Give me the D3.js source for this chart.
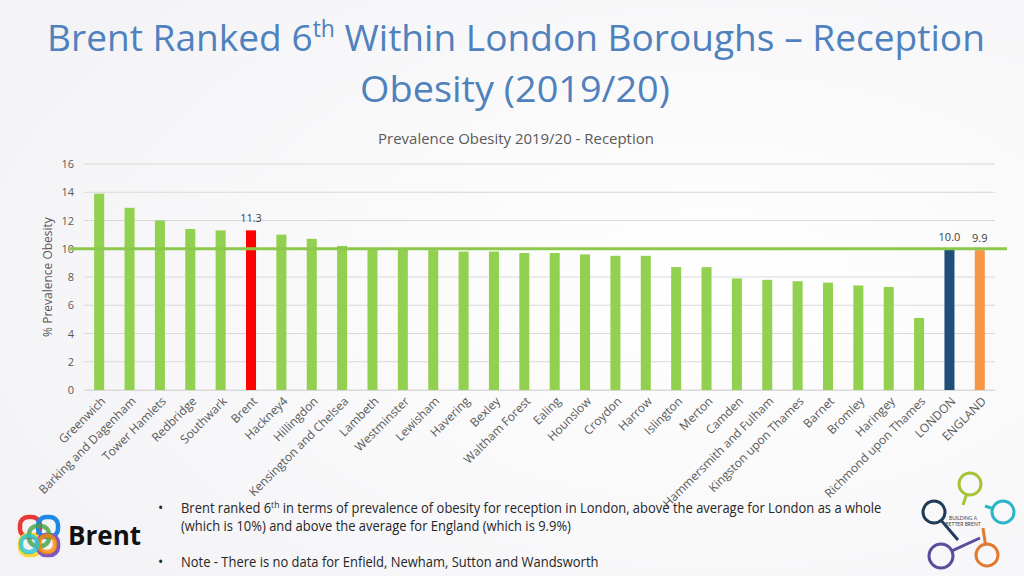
<!DOCTYPE html>
<html><head><meta charset="utf-8">
<script src="https://cdn.jsdelivr.net/npm/d3@7"></script>
<style>
html,body{margin:0;padding:0;background:#f5f5f7;}
svg{display:block;font-family:Lato,"Open Sans",sans-serif;}
</style></head>
<body>
<svg id="c" width="1024" height="576"></svg>
<script>
const categories = ["Greenwich","Barking and Dagenham","Tower Hamlets","Redbridge","Southwark","Brent","Hackney4","Hillingdon","Kensington and Chelsea","Lambeth","Westminster","Lewisham","Havering","Bexley","Waltham Forest","Ealing","Hounslow","Croydon","Harrow","Islington","Merton","Camden","Hammersmith and Fulham","Kingston upon Thames","Barnet","Bromley","Haringey","Richmond upon Thames","LONDON","ENGLAND"];
const values = [13.9,12.9,12.0,11.4,11.3,11.3,11.0,10.7,10.2,10.0,10.0,9.9,9.8,9.8,9.7,9.7,9.6,9.5,9.5,8.7,8.7,7.9,7.8,7.7,7.6,7.4,7.3,5.1,10.0,9.9];
const yTicks = [0,2,4,6,8,10,12,14,16];
const referenceValue = 10.0;
const labelled = ["Brent","LONDON","ENGLAND"];
const highlightColors = {"Brent":"#ff0000","LONDON":"#1f4e79","ENGLAND":"#f79646"};
const baseColor = "#92d050";

const svg = d3.select("#c");

// background
const defs = svg.append("defs");
const g1 = defs.append("radialGradient").attr("id","bg").attr("cx","0.7").attr("cy","0.5").attr("r","0.8");
g1.append("stop").attr("offset","0").attr("stop-color","#ffffff");
g1.append("stop").attr("offset","1").attr("stop-color","#f3f3f6");
svg.append("rect").attr("width",1024).attr("height",576).attr("fill","url(#bg)");

// compress text horizontally around anchor x to reach a target width
function squeeze(sel, ax, w){
  const cur = sel.node().getComputedTextLength();
  const s = w / cur;
  sel.attr("transform",`translate(${ax},0) scale(${s},1) translate(${-ax},0)`);
}

// Title
const t1 = svg.append("text").attr("x",516).attr("y",51).attr("text-anchor","middle")
  .attr("font-size",37).attr("fill","#4f81bd").attr("font-family","'Open Sans',sans-serif");
t1.append("tspan").text("Brent Ranked 6");
t1.append("tspan").text("th").attr("font-size","0.62em").attr("dy",-14);
t1.append("tspan").text(" Within London Boroughs \u2013 Reception").attr("dy",14);
squeeze(t1, 516, 938);
const t2 = svg.append("text").attr("x",515).attr("y",102).attr("text-anchor","middle")
  .attr("font-size",37).attr("fill","#4f81bd").attr("font-family","'Open Sans',sans-serif")
  .text("Obesity (2019/20)");
squeeze(t2, 515, 310);

// chart title
const ct = svg.append("text").attr("x",516).attr("y",144).attr("text-anchor","middle")
  .attr("font-size",14.5).attr("fill","#595959").attr("font-family","'Open Sans',sans-serif")
  .text("Prevalence Obesity 2019/20 - Reception");
squeeze(ct, 516, 276);

const x = d3.scaleBand().domain(categories).range([84,995]).paddingInner(0.67).paddingOuter(0.335);
const y = d3.scaleLinear().domain([0,16]).range([390,164]);

// gridlines
svg.append("g").selectAll("line").data(yTicks).join("line")
  .attr("x1",84).attr("x2",995).attr("y1",d=>y(d)).attr("y2",d=>y(d))
  .attr("stroke","#d9d9d9").attr("stroke-width",1);

// y axis
const yAxis = svg.append("g").attr("transform","translate(80,0)")
  .call(d3.axisLeft(y).tickValues(yTicks).tickSize(0).tickPadding(0));
yAxis.select(".domain").remove();
yAxis.selectAll("text").attr("font-size",11).attr("fill","#595959").attr("font-family","'Open Sans',sans-serif").attr("dx",-6);

svg.append("text").attr("transform","translate(52,277) rotate(-90)").attr("text-anchor","middle")
  .attr("font-size",12).attr("fill","#595959").attr("font-family","'Open Sans',sans-serif")
  .text("% Prevalence Obesity");

// bars
svg.append("g").selectAll("rect").data(categories).join("rect")
  .attr("x",d=>x(d)).attr("width",x.bandwidth())
  .attr("y",(d,i)=>y(values[i])).attr("height",(d,i)=>y(0)-y(values[i]))
  .attr("fill",d=>highlightColors[d]||baseColor);

// reference line
svg.append("line").attr("x1",70).attr("x2",1007).attr("y1",y(referenceValue)).attr("y2",y(referenceValue))
  .attr("stroke","#8cc84b").attr("stroke-width",3);

// data labels
svg.append("g").selectAll("text").data(labelled).join("text")
  .attr("x",d=>x(d)+x.bandwidth()/2)
  .attr("y",d=>y(values[categories.indexOf(d)])-8)
  .attr("text-anchor","middle").attr("font-size",11).attr("fill","#404040")
  .attr("font-family","'Open Sans',sans-serif")
  .text(d=>values[categories.indexOf(d)].toFixed(1));

// x axis labels
const xAxis = svg.append("g").attr("transform","translate(0,390)")
  .call(d3.axisBottom(x).tickSize(0).tickPadding(0));
xAxis.select(".domain").attr("stroke","#d9d9d9");
xAxis.selectAll(".tick text")
  .attr("font-size",12).attr("fill","#595959").attr("font-family","'Open Sans',sans-serif")
  .attr("text-anchor","end").attr("dy",0).attr("y",0)
  .attr("transform","translate(7,12) rotate(-45)");

// bullets
const bx = 181;
const bt = svg.append("g").attr("font-size",14).attr("fill","#262626").attr("font-family","'Open Sans',sans-serif");
bt.append("text").attr("x",158).attr("y",513).text("\u2022");
bt.append("text").attr("x",158).attr("y",567).text("\u2022");
const l1 = bt.append("text").attr("x",bx).attr("y",513);
l1.append("tspan").text("Brent ranked 6");
l1.append("tspan").text("th").attr("font-size","0.65em").attr("dy",-5);
l1.append("tspan").text(" in terms of prevalence of obesity for reception in London, above the average for London as a whole").attr("dy",5);
const s1 = 701 / l1.node().getComputedTextLength();
l1.attr("transform",`translate(${bx},0) scale(${s1},1) translate(${-bx},0)`);
const l2 = bt.append("text").attr("x",bx).attr("y",531).text("(which is 10%) and above the average for England (which is 9.9%)")
  .attr("transform",`translate(${bx},0) scale(${s1},1) translate(${-bx},0)`);
const l3 = bt.append("text").attr("x",bx).attr("y",567).text("Note - There is no data for Enfield, Newham, Sutton and Wandsworth")
  .attr("transform",`translate(${bx},0) scale(${s1},1) translate(${-bx},0)`);

// Brent logo (decorative)
const bl = svg.append("g").attr("fill","none").attr("stroke-width",4.5);
[[30,527,"#e53935"],[48,527,"#1e88e5"],[30,545,"#fdd835"],[48,545,"#7e57c2"]].forEach(c=>{
  bl.append("rect").attr("x",c[0]-10).attr("y",c[1]-10).attr("width",20).attr("height",20).attr("rx",8).attr("stroke",c[2]);
});
bl.append("rect").attr("x",29).attr("y",526).attr("width",20).attr("height",20).attr("rx",8).attr("stroke","#43a047").attr("opacity",0.8);
bl.append("rect").attr("x",39).attr("y",536).attr("width",16).attr("height",16).attr("rx",7).attr("stroke","#fb8c00").attr("opacity",0.8);
bl.append("rect").attr("x",21).attr("y",536).attr("width",16).attr("height",16).attr("rx",7).attr("stroke","#26c6da").attr("opacity",0.8);
svg.append("text").attr("x",68).attr("y",545).attr("font-size",26).attr("font-weight","bold")
  .attr("fill","#111").attr("font-family","'Open Sans',sans-serif").text("Brent");

// right logo (decorative)
const rl = svg.append("g").attr("fill","none").attr("stroke-width",3);
[[970,484,11,"#a5c43a",[963,505]],[1003,512,11,"#29b6c6",[985,506]],[987,555,11,"#e07a2e",[983,528]],[941,556,12,"#5b4d9c",[980,538]],[934,512,11,"#1f3b57",[958,540]]].forEach(c=>{
  rl.append("circle").attr("cx",c[0]).attr("cy",c[1]).attr("r",c[2]).attr("stroke",c[3]);
  const dx=c[4][0]-c[0], dy=c[4][1]-c[1], L=Math.hypot(dx,dy);
  rl.append("line").attr("x1",c[0]+dx/L*c[2]).attr("y1",c[1]+dy/L*c[2]).attr("x2",c[4][0]).attr("y2",c[4][1]).attr("stroke",c[3]);
});
svg.append("text").attr("x",963).attr("y",520).attr("text-anchor","middle").attr("font-size",5).attr("fill","#444").text("BUILDING A");
svg.append("text").attr("x",963).attr("y",526).attr("text-anchor","middle").attr("font-size",5).attr("fill","#444").text("BETTER BRENT");
</script>
</body></html>
